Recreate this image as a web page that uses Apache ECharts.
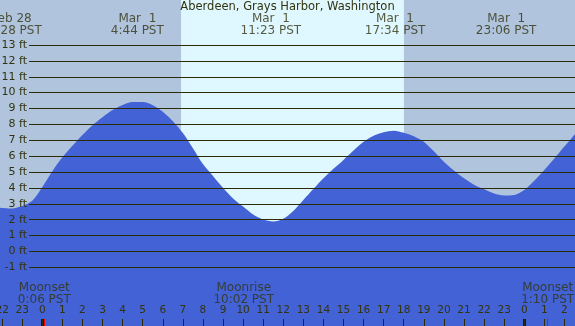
<!DOCTYPE html>
<html>
<head>
<meta charset="utf-8">
<script src="https://cdn.jsdelivr.net/npm/echarts@6/dist/echarts.min.js"></script>
<style>
  html, body { margin: 0; padding: 0; }
  #main { width: 575px; height: 326px; }
</style>
</head>
<body>
<div id="main"></div>
<script>
// Hauteur de marée (heures depuis Mar 1 00:00, pieds)
var tideHours = [-2.11, -1.5, -1, -0.5, 0, 0.5, 1, 1.5, 2, 2.5, 3, 3.5, 4, 4.5, 5, 5.5, 6, 6.5, 7, 7.5, 8, 8.5, 9, 9.5, 10, 10.5, 11, 11.5, 12, 12.5, 13, 13.5, 14, 14.5, 15, 15.5, 16, 16.5, 17, 17.5, 18, 18.5, 19, 19.5, 20, 20.5, 21, 21.5, 22, 22.5, 23, 23.5, 24, 24.5, 25, 25.5, 26, 26.53];
var tideFeet = [2.75, 2.7, 2.85, 3.18, 4.05, 5.05, 5.92, 6.65, 7.33, 7.95, 8.45, 8.9, 9.22, 9.4, 9.4, 9.2, 8.8, 8.2, 7.45, 6.5, 5.5, 4.75, 4.0, 3.33, 2.82, 2.32, 2.0, 1.88, 2.06, 2.55, 3.24, 3.92, 4.6, 5.2, 5.76, 6.35, 6.9, 7.28, 7.5, 7.6, 7.47, 7.25, 6.91, 6.3, 5.65, 5.1, 4.6, 4.2, 3.91, 3.65, 3.52, 3.55, 3.87, 4.45, 5.13, 5.85, 6.6, 7.4];

// Pleines et basses mers
var eventHours = [-1.533, 4.733, 11.383, 17.567, 23.1];
var eventDates = ['Feb 28', 'Mar  1', 'Mar  1', 'Mar  1', 'Mar  1'];
var eventTimes = ['22:28 PST', '4:44 PST', '11:23 PST', '17:34 PST', '23:06 PST'];

// Lune
var moonHours = [0.1, 10.033, 25.167];
var moonNames = ['Moonset', 'Moonrise', 'Moonset'];
var moonTimes = ['0:06 PST', '10:02 PST', '1:10 PST'];

// Lever / coucher du soleil
var sunHours = [6.91, 18.01];
var midnights = [0, 24];

var ftTicks = [-1, 13];

var textColor = '#33330f';
var lineColor = '#2b2b05';
var font = 'DejaVu Sans';
var xMin = -2.1066, xMax = 26.529;

var tideData = [];
for (var i = 0; i < tideHours.length; i++) {
	tideData.push([tideHours[i], tideFeet[i]]);
}
var eventData = [];
for (var i = 0; i < eventHours.length; i++) {
	eventData.push({ value: [eventHours[i], 0], label: { formatter: eventDates[i] + '\n' + eventTimes[i] } });
}
var moonData = [];
for (var i = 0; i < moonHours.length; i++) {
	moonData.push({ value: [moonHours[i], 0], label: { formatter: moonNames[i] + '\n' + moonTimes[i] } });
}
var tickMarks = [];
for (var i = 0; i < midnights.length; i++) {
	tickMarks.push({ xAxis: midnights[i], lineStyle: { color: '#1a1a00', width: 3, type: 'solid' } });
}
for (var i = 0; i < moonHours.length; i++) {
	tickMarks.push({ xAxis: moonHours[i], lineStyle: { color: '#ff0000', width: 1, type: 'solid' } });
}

var myChart = echarts.init(document.getElementById('main'));

var option = {
	animation: false,
	backgroundColor: '#b0c4de',
	title: {
		text: 'Aberdeen, Grays Harbor, Washington',
		left: 'center',
		top: 1,
		padding: 0,
		textStyle: { fontFamily: font, fontSize: 11.5, fontWeight: 'normal', color: textColor }
	},
	grid: [
		{ left: 0, right: 0, top: 0, bottom: 0, outerBoundsMode: 'none' },           // eau + jour/nuit
		{ left: 29, right: 0, top: 45, bottom: 58.7, outerBoundsMode: 'none' },      // lignes des pieds
		{ left: 2.14, right: 10.62, top: 319, bottom: 0, outerBoundsMode: 'none' },  // heures
		{ left: 0, right: 0, top: 12, height: 26, outerBoundsMode: 'none' },         // étiquettes marées
		{ left: 0, right: 0, top: 282, height: 24, outerBoundsMode: 'none' }         // étiquettes lune
	],
	xAxis: [
		{ gridIndex: 0, type: 'value', min: xMin, max: xMax, show: false },
		{ gridIndex: 1, type: 'value', min: xMin, max: xMax, show: false },
		{
			gridIndex: 2, type: 'value', min: -2, max: 26, interval: 1, z: 10,
			axisLine: { show: false },
			axisTick: { show: true, inside: true, length: 7, lineStyle: { color: lineColor, width: 1 } },
			axisLabel: {
				inside: true, margin: 10, interval: 0, showMinLabel: true, showMaxLabel: true, hideOverlap: false,
				fontFamily: font, fontSize: 10.5, color: textColor,
				formatter: function(v) { return ((v % 24) + 24) % 24; }
			},
			splitLine: { show: false }
		},
		{ gridIndex: 3, type: 'value', min: xMin, max: xMax, show: false },
		{ gridIndex: 4, type: 'value', min: xMin, max: xMax, show: false }
	],
	yAxis: [
		{ gridIndex: 0, type: 'value', min: -4.70, max: 15.83, show: false },
		{
			gridIndex: 1, type: 'value', min: ftTicks[0], max: ftTicks[1], interval: 1, z: 10,
			axisLine: { show: false },
			axisTick: { show: false },
			axisLabel: { margin: 2, fontFamily: font, fontSize: 11, color: textColor, formatter: '{value} ft' },
			splitLine: { show: true, lineStyle: { color: lineColor, width: 1 } }
		},
		{ gridIndex: 2, type: 'value', min: 0, max: 1, show: false },
		{ gridIndex: 3, type: 'value', min: -1, max: 1, show: false },
		{ gridIndex: 4, type: 'value', min: -1, max: 1, show: false }
	],
	series: [
		{
			// jour / nuit
			type: 'line', xAxisIndex: 0, yAxisIndex: 0, z: 1,
			data: [[xMin, -4.7]], showSymbol: false, symbolSize: 0,
			lineStyle: { opacity: 0 },
			markArea: {
				silent: true,
				itemStyle: { color: '#dff7fe' },
				data: [[{ xAxis: sunHours[0] }, { xAxis: sunHours[1] }]]
			}
		},
		{
			// marée
			type: 'line', xAxisIndex: 0, yAxisIndex: 0, z: 2,
			data: tideData,
			smooth: 0.3,
			showSymbol: false,
			lineStyle: { width: 0 },
			itemStyle: { color: '#4262d6' },
			areaStyle: { color: '#4262d6', opacity: 1, origin: 'start' }
		},
		{
			// repères heures : minuit et lune
			type: 'scatter', xAxisIndex: 2, yAxisIndex: 2, z: 12,
			data: [[0, 0]], symbolSize: 0,
			markLine: { silent: true, symbol: ['none', 'none'], label: { show: false }, data: tickMarks }
		},
		{
			type: 'scatter', xAxisIndex: 3, yAxisIndex: 3, z: 5,
			data: eventData, symbolSize: 0,
			label: { show: true, position: 'inside', fontFamily: font, fontSize: 12, lineHeight: 12, color: textColor, align: 'center' }
		},
		{
			type: 'scatter', xAxisIndex: 4, yAxisIndex: 4, z: 5,
			data: moonData, symbolSize: 0,
			label: { show: true, position: 'inside', fontFamily: font, fontSize: 12, lineHeight: 12, color: textColor, align: 'center' }
		}
	]
};

myChart.setOption(option);
</script>
</body>
</html>
